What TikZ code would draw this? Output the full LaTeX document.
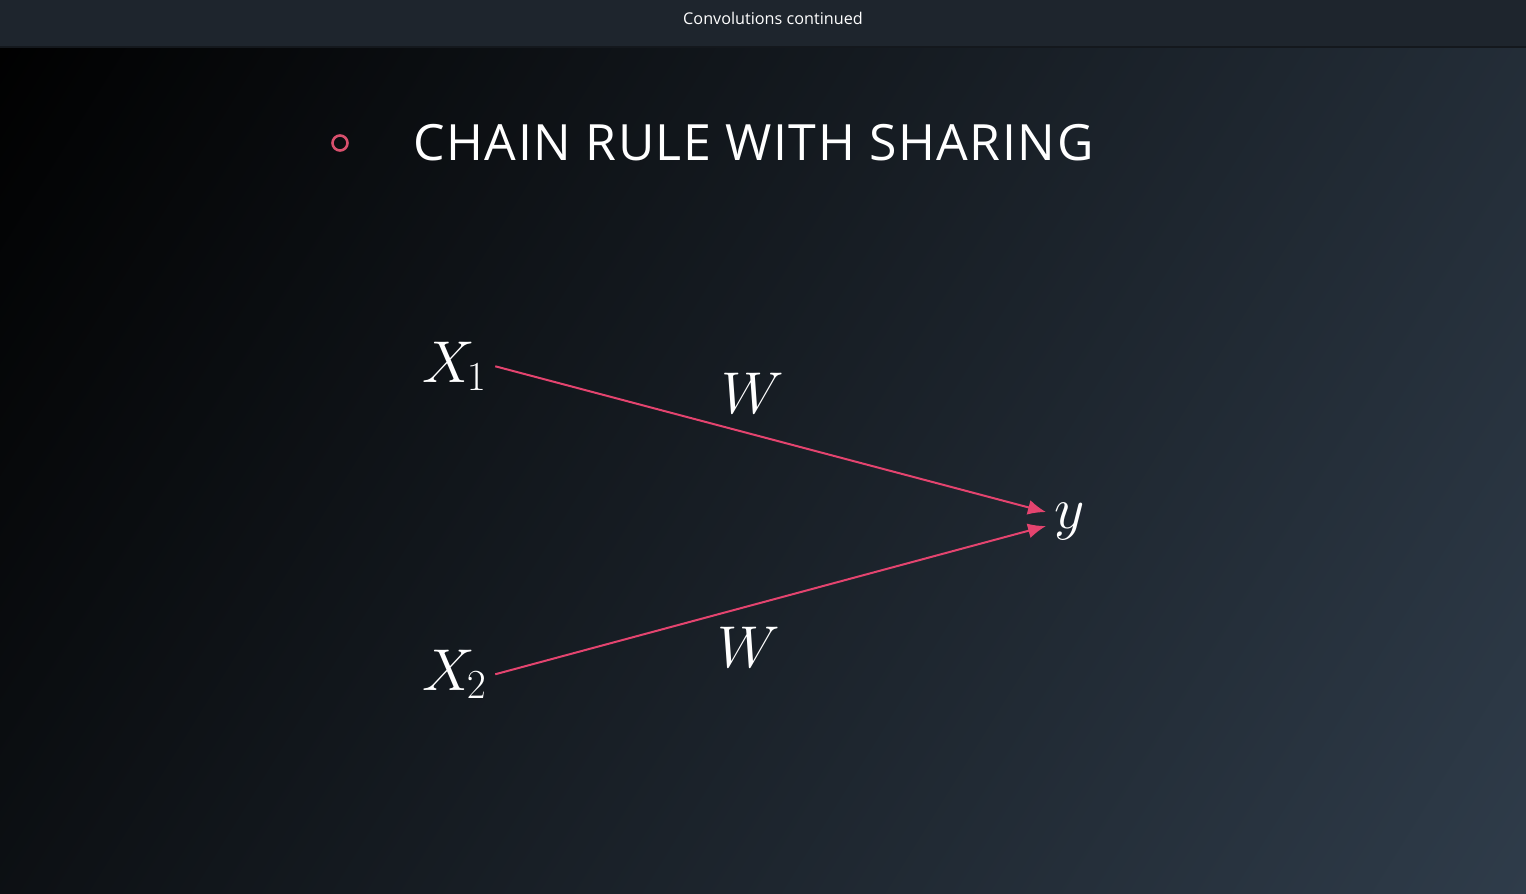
\RequirePackage{fix-cm}
\documentclass[tikz,border=0pt]{standalone}
\usepackage{fontspec}
\setsansfont{Open Sans}
\usetikzlibrary{arrows.meta}

\definecolor{barfill}{HTML}{1E252D}
\definecolor{barline}{HTML}{14181D}
\definecolor{bgleft}{HTML}{000000}
\definecolor{bgmid}{HTML}{1A1E26}
\definecolor{bgright}{HTML}{2F3C4A}
\definecolor{accent}{HTML}{E4446F}
\definecolor{bulletpink}{HTML}{D9506D}

\tikzset{
  mathlbl/.style={text=white, inner sep=4pt, font=\fontsize{29.5}{34}\selectfont},
  weightlbl/.style={text=white, inner sep=0pt, font=\fontsize{29.5}{34}\selectfont},
  edge/.style={draw=accent, line width=1pt, -{Latex[length=9pt,width=7.5pt]}},
}

\begin{document}
\begin{tikzpicture}[x=0.5pt,y=-0.5pt]
  \useasboundingbox (0,0) rectangle (1526,894);

  % slide background: diagonal gradient, dark at top left
  \begin{scope}
    \clip (0,47) rectangle (1526,894);
    \begin{scope}[transform canvas={rotate=-31.8}]
      \shade[left color=bgleft, middle color=bgmid, right color=bgright]
        (0,-810) rectangle (1768,770);
    \end{scope}
  \end{scope}

  % header bar
  \fill[barfill] (0,0) rectangle (1526,47);
  \draw[barline, line width=1pt] (0,47) -- (1526,47);
  \node[text=white, font=\sffamily\fontsize{8.1}{10}\selectfont, inner sep=0pt]
    (header) at (773,18) {Convolutions continued};

  % heading with bullet
  \node[draw=bulletpink, line width=1.3pt, circle, minimum size=7.5pt, inner sep=0pt]
    (bullet) at (340,143) {};
  \node[anchor=west, text=white, inner sep=0pt,
        font=\sffamily\fontsize{25}{30}\selectfont\addfontfeatures{LetterSpace=3}]
    (title) at (413,143) {CHAIN RULE WITH SHARING};

  % variables
  \node[mathlbl, anchor=base west] (x1) at (414,382) {$X_{\mkern-1.5mu 1}$};
  \node[mathlbl, anchor=base west] (x2) at (414,690) {$X_{\mkern-1.5mu 2}$};
  \node[mathlbl, anchor=base west] (y)  at (1046,528) {$y$};

  % shared weight labels
  \node[weightlbl, anchor=base west] (w1) at (721,413) {$W$};
  \node[weightlbl, anchor=base west] (w2) at (717,667) {$W$};

  % connections into y
  \draw[edge] (x1.east) -- ([yshift=4.5pt]y.west);
  \draw[edge] (x2.east) -- ([yshift=-2.5pt]y.west);
\end{tikzpicture}
\end{document}
